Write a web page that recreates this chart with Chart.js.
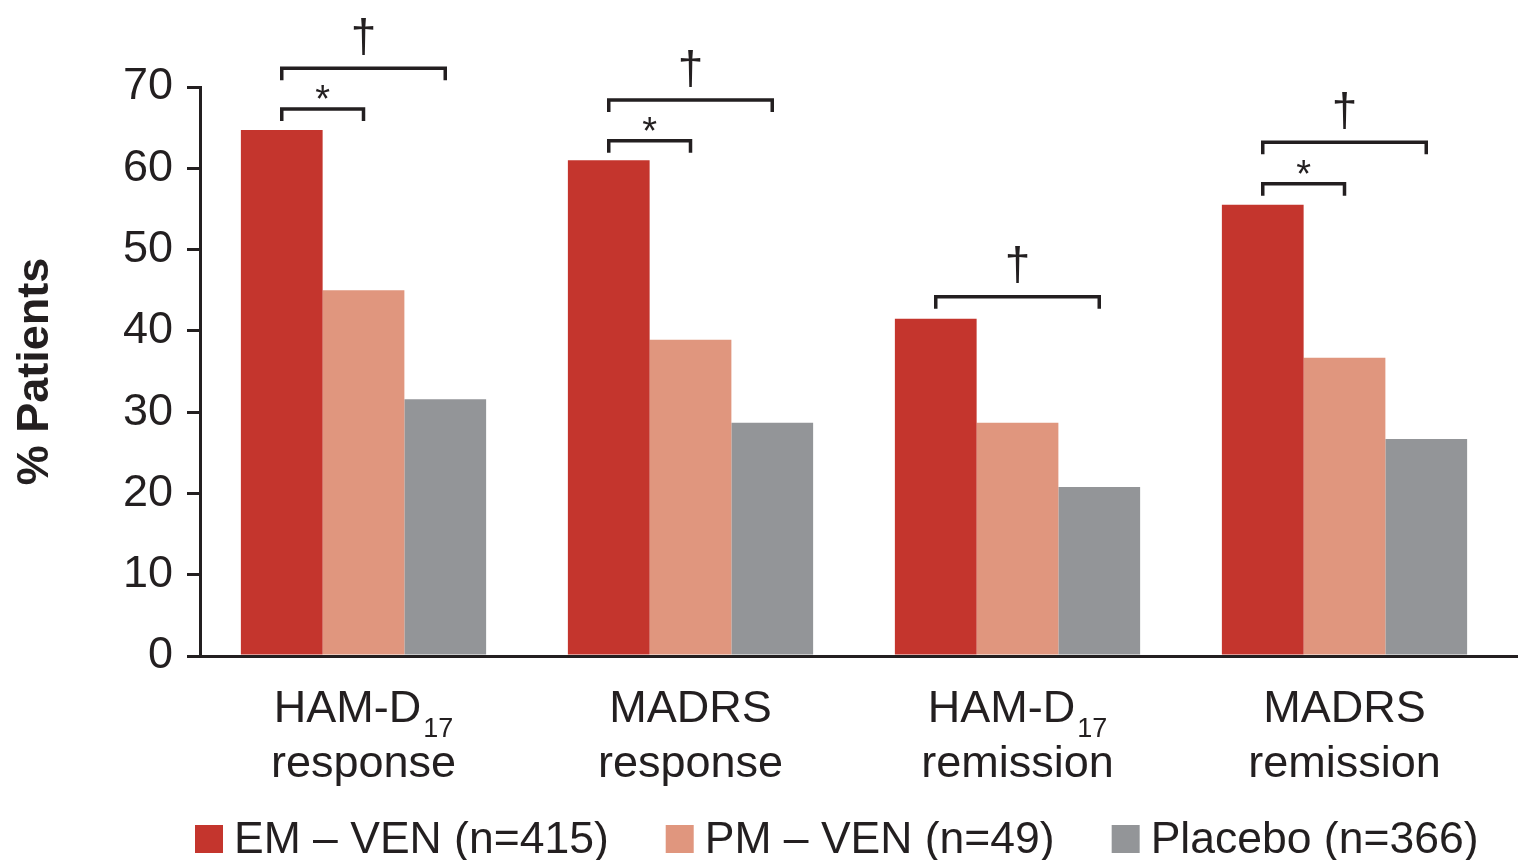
<!DOCTYPE html>
<html>
<head>
<meta charset="utf-8">
<script src="https://cdn.jsdelivr.net/npm/chart.js@4.4.1/dist/chart.umd.min.js"></script>
<style>
  html, body { margin: 0; padding: 0; background: #fff; }
</style>
</head>
<body>
<canvas id="chart" width="1526" height="860"></canvas>
<script>
// categories (first line, subscript, second line)
const catMain = ['HAM-D', 'MADRS', 'HAM-D', 'MADRS'];
const catSub = ['17', '', '17', ''];
const catSecond = ['response', 'response', 'remission', 'remission'];

// series
const seriesNames = ['EM \u2013 VEN (n=415)', 'PM \u2013 VEN (n=49)', 'Placebo (n=366)'];
const emVen = [64.7, 61.0, 41.5, 55.5];
const pmVen = [45.0, 38.9, 28.7, 36.7];
const placebo = [31.6, 28.7, 20.8, 26.7];

// significance brackets (height in % units), null = none
const starBracket = [67.3, 63.4, null, 58.1];   // EM vs PM, *
const daggerBracket = [72.3, 68.4, 44.2, 63.2]; // EM vs placebo, †

const colors = ['#c4352d', '#e0967e', '#939598'];
const ink = '#231f20';
const family = '"Liberation Sans", Arial, Helvetica, sans-serif';

const annotations = {
  id: 'annotations',
  afterDraw(chart) {
    const ctx = chart.ctx;
    const area = chart.chartArea;
    const x = chart.scales.x;
    const y = chart.scales.y;
    ctx.save();
    ctx.fillStyle = ink;
    ctx.strokeStyle = ink;

    // x axis line runs a bit past the last bar group
    ctx.lineWidth = 3;
    const axisY = Math.floor(area.bottom) + 0.5;
    ctx.beginPath();
    ctx.moveTo(area.right - 2, axisY);
    ctx.lineTo(area.right + 10, axisY);
    ctx.stroke();

    // category labels with subscript
    ctx.textBaseline = 'alphabetic';
    for (let i = 0; i < catMain.length; i++) {
      const cx = x.getPixelForValue(i);
      ctx.font = '45px ' + family;
      const wMain = ctx.measureText(catMain[i]).width;
      ctx.font = '27px ' + family;
      const wSub = catSub[i] ? ctx.measureText(catSub[i]).width + 2 : 0;
      const start = cx - (wMain + wSub) / 2;
      ctx.textAlign = 'left';
      ctx.font = '45px ' + family;
      ctx.fillText(catMain[i], start, area.bottom + 66);
      if (catSub[i]) {
        ctx.font = '27px ' + family;
        ctx.fillText(catSub[i], start + wMain + 2, area.bottom + 81);
      }
      ctx.textAlign = 'center';
      ctx.font = '45px ' + family;
      ctx.fillText(catSecond[i], cx, area.bottom + 121);
    }

    // brackets
    const m0 = chart.getDatasetMeta(0).data;
    const m1 = chart.getDatasetMeta(1).data;
    const m2 = chart.getDatasetMeta(2).data;
    function bracket(x1, x2, val, sym, size, lift) {
      const by = y.getPixelForValue(val);
      ctx.lineWidth = 3.5;
      ctx.lineJoin = 'miter';
      ctx.beginPath();
      ctx.moveTo(x1, by + 12);
      ctx.lineTo(x1, by);
      ctx.lineTo(x2, by);
      ctx.lineTo(x2, by + 12);
      ctx.stroke();
      ctx.font = size + 'px ' + family;
      ctx.textAlign = 'center';
      ctx.textBaseline = 'alphabetic';
      const mt = ctx.measureText(sym);
      const mid = (mt.actualBoundingBoxAscent - mt.actualBoundingBoxDescent) / 2;
      ctx.fillText(sym, (x1 + x2) / 2, by - lift + mid);
    }
    for (let i = 0; i < catMain.length; i++) {
      if (starBracket[i] !== null) bracket(m0[i].x, m1[i].x, starBracket[i], '*', 38, 17);
      if (daggerBracket[i] !== null) bracket(m0[i].x, m2[i].x, daggerBracket[i], '\u2020', 46, 32);
    }

    // legend
    ctx.font = '44.5px ' + family;
    ctx.textAlign = 'left';
    ctx.textBaseline = 'alphabetic';
    let lx = area.left - 5;
    const ly = 825;
    for (let k = 0; k < seriesNames.length; k++) {
      ctx.fillStyle = colors[k];
      ctx.fillRect(lx, ly, 28, 28);
      ctx.fillStyle = ink;
      ctx.fillText(seriesNames[k], lx + 39, ly + 28);
      lx += 39 + ctx.measureText(seriesNames[k]).width + 57;
    }
    ctx.restore();
  }
};

new Chart(document.getElementById('chart'), {
  type: 'bar',
  data: {
    labels: catMain.map((m, i) => m + catSub[i] + ' ' + catSecond[i]),
    datasets: [
      { label: seriesNames[0], data: emVen, backgroundColor: colors[0] },
      { label: seriesNames[1], data: pmVen, backgroundColor: colors[1] },
      { label: seriesNames[2], data: placebo, backgroundColor: colors[2] }
    ]
  },
  options: {
    responsive: false,
    animation: false,
    layout: { padding: { left: 6, right: 18, top: 87, bottom: 0 } },
    datasets: { bar: { categoryPercentage: 0.75, barPercentage: 1.0 } },
    plugins: {
      legend: { display: false },
      tooltip: { enabled: false }
    },
    scales: {
      x: {
        grid: { display: false },
        border: { display: true, width: 3, color: ink },
        ticks: { display: false },
        afterFit: s => { s.height = 204; }
      },
      y: {
        min: 0,
        max: 70,
        ticks: { stepSize: 10, color: ink, padding: 14, font: { family: family, size: 45 } },
        grid: { drawOnChartArea: false, drawTicks: true, tickLength: 13, color: ink, lineWidth: 3 },
        border: { display: true, width: 3, color: ink },
        title: {
          display: true,
          text: '% Patients',
          color: ink,
          padding: { top: 3, bottom: 0 },
          font: { family: family, size: 45, weight: 'bold' }
        },
        afterFit: s => { s.width = 194; }
      }
    }
  },
  plugins: [annotations]
});
</script>
</body>
</html>
